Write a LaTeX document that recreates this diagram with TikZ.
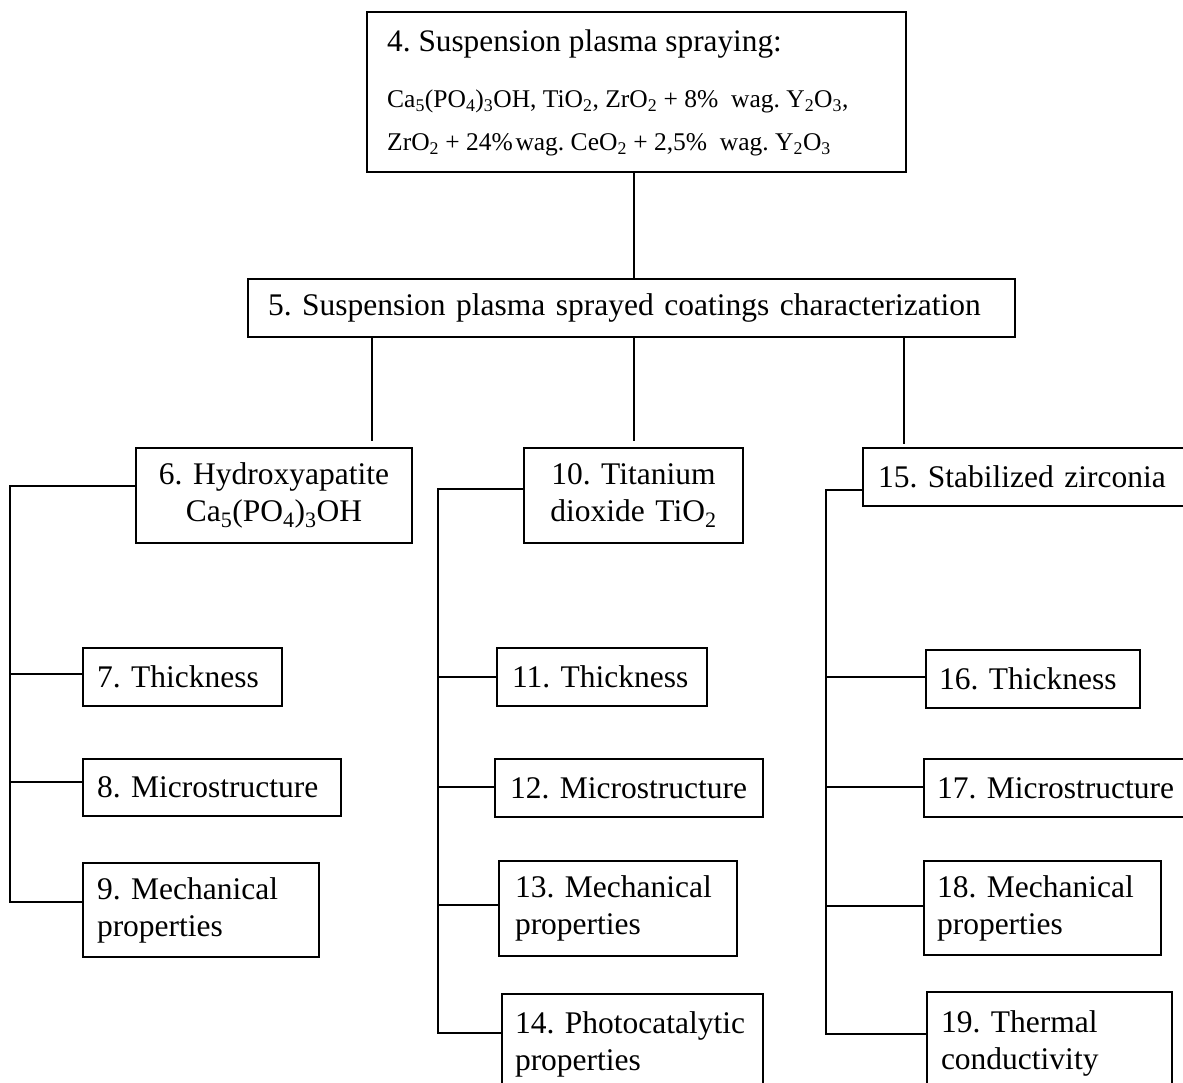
\documentclass[tikz,border=0pt]{standalone}
\usepackage{fontspec}
\setmainfont{Liberation Serif}
\newcommand{\mysub}[1]{\textsubscript{#1}}
\newcommand{\ml}[1]{\mbox{#1}}
\tikzset{
  bx/.style={draw, line width=1.8pt, inner ysep=0pt, anchor=center,
    font=\fontsize{31.5}{37}\selectfont\frenchspacing},
  ln/.style={line width=2pt},
  txt/.style={anchor=base west, inner sep=0pt},
}
\begin{document}
\frenchspacing
\begin{tikzpicture}[x=1pt,y=-1pt]
\useasboundingbox (0,0) rectangle (1183,1083);
\clip (0,0) rectangle (1183,1083);
% box 4
\node[draw, line width=1.8pt, minimum width=539, minimum height=160, inner sep=0pt] (b4) at (636.5,92) {};
\node[txt, font=\fontsize{31.3}{36}\selectfont\frenchspacing] (b4a) at (387,52) {4. Suspension plasma spraying:};
\node[txt, font=\fontsize{25.5}{30}\selectfont\frenchspacing] (b4b) at (387,108) {Ca\mysub{5}(PO\mysub{4})\mysub{3}OH, TiO\mysub{2}, ZrO\mysub{2} + 8\%\hspace{0.5em}wag. Y\mysub{2}O\mysub{3},};
\node[txt, font=\fontsize{25.5}{30}\selectfont\frenchspacing] (b4c) at (387,151) {ZrO\mysub{2} + 24\%\hspace{0.1em}wag. CeO\mysub{2} + 2,5\%\hspace{0.5em}wag. Y\mysub{2}O\mysub{3}};
% box 5
\node[bx, minimum width=767, minimum height=58, inner xsep=20, text width=727, align=left] (b5) at (631.5,308) {\ml{5. Suspension plasma sprayed coatings characterization}};
% level 3
\node[bx, minimum width=276, minimum height=95, inner xsep=10, text width=256, align=center] (b6) at (274,495.5) {\ml{6. Hydroxyapatite}\\\ml{Ca\mysub{5}(PO\mysub{4})\mysub{3}OH}};
\node[bx, minimum width=219, minimum height=95, inner xsep=10, text width=199, align=center] (b10) at (633.5,495.5) {\ml{10. Titanium}\\\ml{dioxide TiO\mysub{2}}};
\node[bx, minimum width=332, minimum height=58, inner xsep=15, text width=302, align=left] (b15) at (1029,477) {\ml{15. Stabilized zirconia}};
% group 1
\node[bx, minimum width=199, minimum height=58, inner xsep=14, text width=171, align=left] (b7) at (182.5,677) {\ml{7. Thickness}};
\node[bx, minimum width=258, minimum height=57, inner xsep=14, text width=230, align=left] (b8) at (212,787.5) {\ml{8. Microstructure}};
\node[bx, minimum width=236, minimum height=94, inner xsep=14, text width=208, align=left] (b9) at (201,910) {\ml{9. Mechanical}\\\ml{properties}};
% group 2
\node[bx, minimum width=210, minimum height=58, inner xsep=15, text width=180, align=left] (b11) at (602,677) {\ml{11. Thickness}};
\node[bx, minimum width=268, minimum height=58, inner xsep=15, text width=238, align=left] (b12) at (629,788) {\ml{12. Microstructure}};
\node[bx, minimum width=238, minimum height=95, inner xsep=16, text width=206, align=left] (b13) at (618,908.5) {\ml{13. Mechanical}\\\ml{properties}};
\node[bx, minimum width=261, minimum height=100, inner xsep=13, text width=235, align=left] (b14) at (632.5,1044) {\ml{14. Photocatalytic}\\\ml{properties}};
% group 3
\node[bx, minimum width=214, minimum height=58, inner xsep=13, text width=188, align=left] (b16) at (1033,679) {\ml{16. Thickness}};
\node[bx, minimum width=271, minimum height=58, inner xsep=13, text width=245, align=left] (b17) at (1059.5,788) {\ml{17. Microstructure}};
\node[bx, minimum width=237, minimum height=94, inner xsep=13, text width=211, align=left] (b18) at (1042.5,908) {\ml{18. Mechanical}\\\ml{properties}};
\node[bx, minimum width=245, minimum height=102, inner xsep=14, text width=217, align=left] (b19) at (1049.5,1043) {\ml{19. Thermal}\\\ml{conductivity}};
% connectors
\coordinate (c45) at (634,0);
\draw[ln] (b4.south -| c45) -- (b5.north -| c45);
\coordinate (v6) at (372,441);
\coordinate (v10) at (634,441);
\coordinate (v15) at (904,444);
\draw[ln] (b5.south -| v6) -- (v6);
\draw[ln] (b5.south -| v10) -- (v10);
\draw[ln] (b5.south -| v15) -- (v15);
% group 1 tree
\coordinate (t1) at (10,486);
\coordinate (j7) at (10,674);
\coordinate (j8) at (10,782);
\coordinate (j9) at (10,902);
\draw[ln] (t1 -| b6.west) -- (t1) -- (j9) -- (j9 -| b9.west);
\draw[ln] (j7) -- (j7 -| b7.west);
\draw[ln] (j8) -- (j8 -| b8.west);
% group 2 tree
\coordinate (t2) at (438,489);
\coordinate (j11) at (438,677);
\coordinate (j12) at (438,787);
\coordinate (j13) at (438,905);
\coordinate (j14) at (438,1033);
\draw[ln] (t2 -| b10.west) -- (t2) -- (j14) -- (j14 -| b14.west);
\draw[ln] (j11) -- (j11 -| b11.west);
\draw[ln] (j12) -- (j12 -| b12.west);
\draw[ln] (j13) -- (j13 -| b13.west);
% group 3 tree
\coordinate (t3) at (826,490);
\coordinate (j16) at (826,677);
\coordinate (j17) at (826,787);
\coordinate (j18) at (826,906);
\coordinate (j19) at (826,1034);
\draw[ln] (t3 -| b15.west) -- (t3) -- (j19) -- (j19 -| b19.west);
\draw[ln] (j16) -- (j16 -| b16.west);
\draw[ln] (j17) -- (j17 -| b17.west);
\draw[ln] (j18) -- (j18 -| b18.west);
\end{tikzpicture}
\end{document}
